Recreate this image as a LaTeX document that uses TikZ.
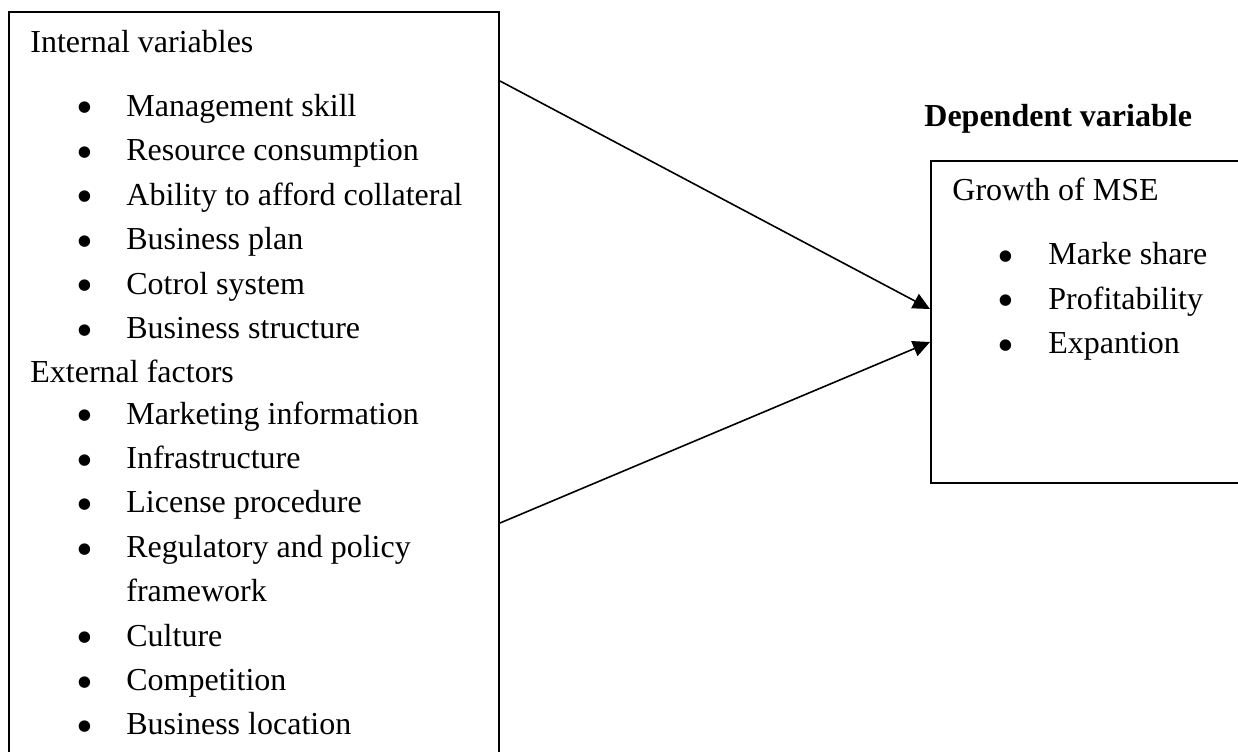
\documentclass[tikz,border=0pt]{standalone}
\usepackage{fontspec}
\setmainfont{Liberation Serif}
\usetikzlibrary{arrows.meta}
\begin{document}
\begin{tikzpicture}[x=0.5pt,y=-0.5pt,
  txt/.style={anchor=base west,inner sep=0pt,font=\fontsize{16pt}{19pt}\selectfont},
  bul/.style={anchor=center,inner sep=0pt,font=\fontsize{24pt}{26pt}\selectfont},
  box/.style={draw,line width=1pt,inner sep=0pt},
  conn/.style={line width=0.8pt,-{Triangle[length=8.5pt,width=8pt]}}]
\useasboundingbox (0,0) rectangle (1238,751);
\clip (0,0) rectangle (1238,751);
% boxes
\node[box,minimum width=245pt,minimum height=379pt] (L) at (254,391) {};
\node[box,minimum width=159.5pt,minimum height=161pt] (R) at (1090.5,322) {};
% left texts
\node[txt] (h1) at (30,52) {Internal variables};
\foreach \t [count=\i] in {Management skill,Resource consumption,Ability to afford collateral,Business plan,Cotrol system,Business structure}{
  \node[bul] (ib\i) at (85,{116+44.5*(\i-1)-3}) {•};
  \node[txt] (it\i) at (126,{116+44.5*(\i-1)}) {\t};
}
\node[txt] (h2) at (30,382) {External factors};
\foreach \t [count=\i] in {Marketing information,Infrastructure,License procedure,Regulatory and policy}{
  \node[bul] (eb\i) at (85,{424+44.4*(\i-1)-3}) {•};
  \node[txt] (et\i) at (126,{424+44.4*(\i-1)}) {\t};
}
\node[txt] (et4b) at (126,601.6) {framework};
\foreach \t [count=\i] in {Culture,Competition,Business location}{
  \node[bul] (fb\i) at (85,{646+44.4*(\i-1)-3}) {•};
  \node[txt] (ft\i) at (126,{646+44.4*(\i-1)}) {\t};
}
% right texts
\node[txt,font=\fontsize{16pt}{19pt}\selectfont\bfseries] (dv) at (924,126) {Dependent variable};
\node[txt] (g) at (952,200) {Growth of MSE};
\foreach \t [count=\i] in {Marke share,Profitability,Expantion}{
  \node[bul] (rb\i) at (1006,{264.5+44.5*(\i-1)-3}) {•};
  \node[txt] (rt\i) at (1048,{264.5+44.5*(\i-1)}) {\t};
}
% connectors
\coordinate (y1) at (0,81);
\coordinate (y2) at (0,523);
\coordinate (y3) at (0,309);
\coordinate (y4) at (0,342);
\draw[conn] (L.east |- y1) -- (R.west |- y3);
\draw[conn] (L.east |- y2) -- (R.west |- y4);
\end{tikzpicture}
\end{document}
